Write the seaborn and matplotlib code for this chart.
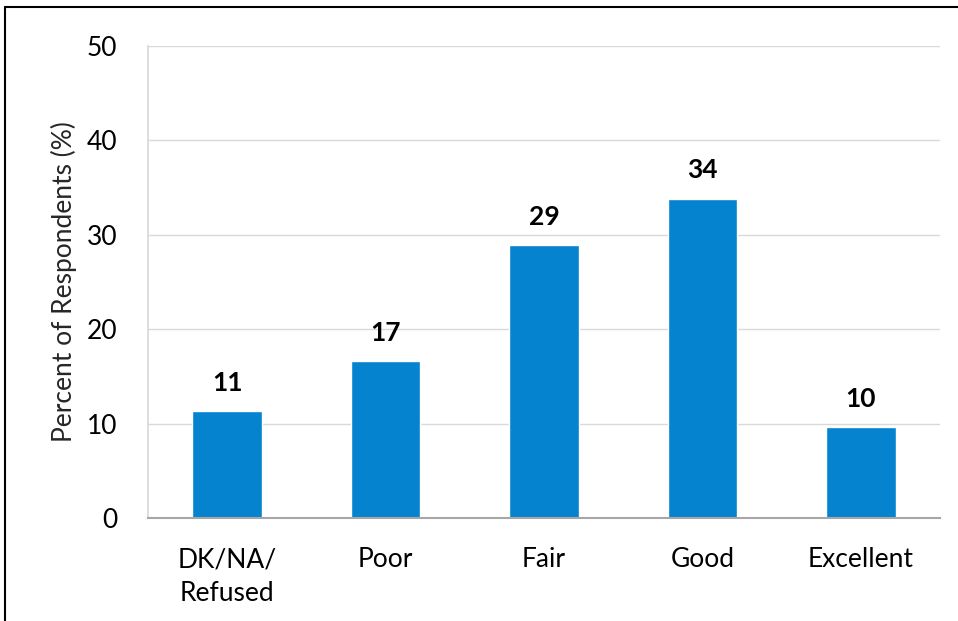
import matplotlib
matplotlib.use("Agg")
import matplotlib.pyplot as plt
import seaborn as sns
import pandas as pd
from matplotlib.lines import Line2D

categories = ["DK/NA/\nRefused", "Poor", "Fair", "Good", "Excellent"]
values = [11.3, 16.6, 28.9, 33.8, 9.6]
labels = ["11", "17", "29", "34", "10"]
yticks = [0, 10, 20, 30, 40, 50]

sns.set_theme(style="white")
plt.rcParams['font.family'] = ['Lato', 'DejaVu Sans']

df = pd.DataFrame({"cat": categories, "val": values})

fig = plt.figure(figsize=(9.58, 6.21), dpi=100)
ax = fig.add_axes([148/958, 1-518/621, 792/958, 472/621])
sns.barplot(data=df, x="cat", y="val", color="#0583CE", saturation=1, width=0.44, ax=ax)

ax.set_ylim(0, 50)
ax.set_yticks(yticks)
ax.set_xlim(-0.5, 4.5)
ax.grid(axis="y", color="#D9D9D9", linewidth=1)
ax.set_axisbelow(True)
for s in ["top", "right"]:
    ax.spines[s].set_visible(False)
ax.spines["left"].set_color("#D9D9D9")
ax.spines["bottom"].set_color("#A6A6A6")
ax.spines["bottom"].set_linewidth(1.5)
ax.tick_params(axis="both", length=0, labelsize=19, colors="black")
ax.tick_params(axis="x", pad=21)
ax.tick_params(axis="y", pad=22)
ax.set_xlabel("")
ax.set_ylabel("Percent of Respondents (%)", fontsize=19, labelpad=7)
for lab in ax.get_xticklabels():
    lab.set_linespacing(1.45)

for p, t in zip(ax.patches, labels):
    ax.annotate(t, (p.get_x() + p.get_width()/2, p.get_height()),
                xytext=(0, 12), textcoords="offset points", ha="center", va="bottom",
                fontsize=19, fontweight="bold", color="black")

fig.add_artist(Line2D([5/958, 1], [1-7/621, 1-7/621], color="black", linewidth=1.5, transform=fig.transFigure))
fig.add_artist(Line2D([5/958, 5/958], [0, 1-7/621], color="black", linewidth=1.5, transform=fig.transFigure))

fig.savefig("out.png", dpi=100)
